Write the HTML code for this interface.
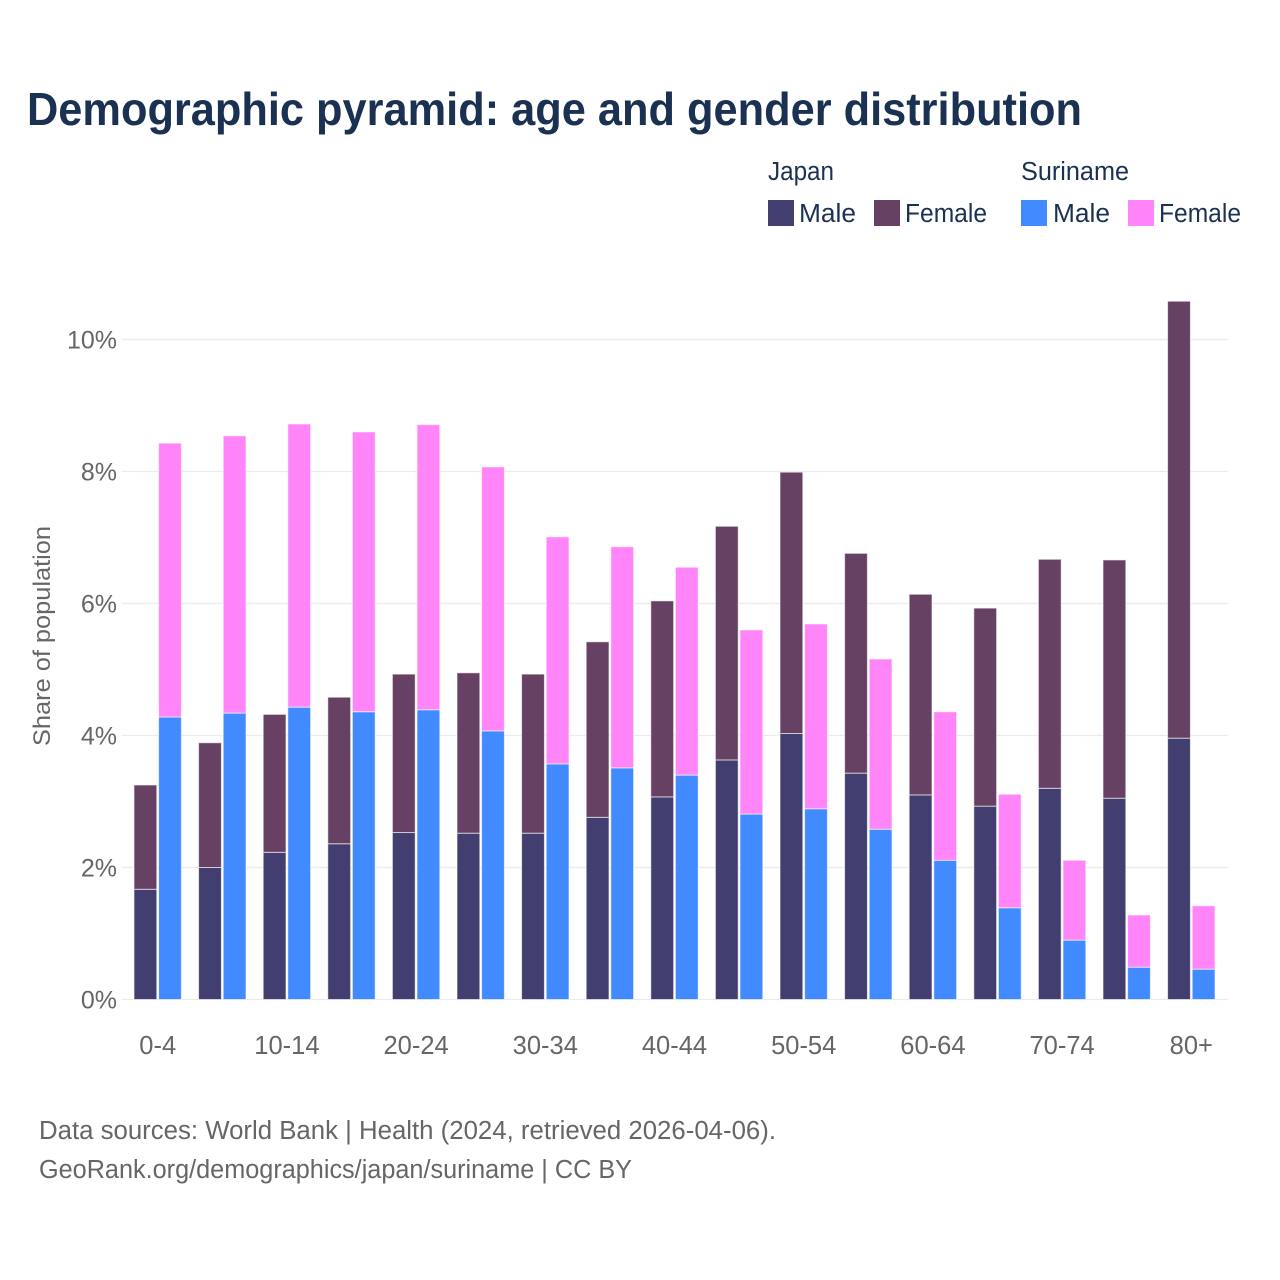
<!DOCTYPE html>
<html lang="en">
<head>
<meta charset="utf-8">
<title>Demographic pyramid: age and gender distribution</title>
<style>
  html, body { margin: 0; padding: 0; background: #fff; }
  svg { display: block; font-family: "Liberation Sans", sans-serif; }
</style>
</head>
<body>
<svg id="chart" width="1280" height="1280" viewBox="0 0 1280 1280" xmlns="http://www.w3.org/2000/svg">
  <rect x="0" y="0" width="1280" height="1280" fill="#ffffff"/>
  <text x="27" y="125" font-size="46" font-weight="700" fill="#1a3152" textLength="1055" lengthAdjust="spacingAndGlyphs">Demographic pyramid: age and gender distribution</text>

  <g>
    <text x="768" y="180" font-size="25.5" fill="#1a3152" textLength="66" lengthAdjust="spacingAndGlyphs">Japan</text>
    <text x="1021" y="180" font-size="25.5" fill="#1a3152" textLength="108" lengthAdjust="spacingAndGlyphs">Suriname</text>
    <rect x="768" y="200" width="26" height="26" fill="#423f70"/>
    <text x="799" y="222" font-size="25.5" fill="#1a3152" textLength="57" lengthAdjust="spacingAndGlyphs">Male</text>
    <rect x="874" y="200" width="26" height="26" fill="#664163"/>
    <text x="905" y="222" font-size="25.5" fill="#1a3152" textLength="82" lengthAdjust="spacingAndGlyphs">Female</text>
    <rect x="1021" y="200" width="26" height="26" fill="#428aff"/>
    <text x="1053" y="222" font-size="25.5" fill="#1a3152" textLength="57" lengthAdjust="spacingAndGlyphs">Male</text>
    <rect x="1128" y="200" width="26" height="26" fill="#ff85f9"/>
    <text x="1159" y="222" font-size="25.5" fill="#1a3152" textLength="82" lengthAdjust="spacingAndGlyphs">Female</text>
  </g>

  <g id="grid"></g>
  <g id="bars"></g>
  <g id="yticks"></g>
  <g id="xticks"></g>

  <text transform="translate(50 636) rotate(-90)" text-anchor="middle" font-size="24.5" fill="#666666" textLength="220" lengthAdjust="spacingAndGlyphs">Share of population</text>

  <text x="39" y="1139" font-size="25.5" fill="#666666" textLength="737" lengthAdjust="spacingAndGlyphs">Data sources: World Bank | Health (2024, retrieved 2026-04-06).</text>
  <text x="39" y="1178" font-size="25.5" fill="#666666" textLength="593" lengthAdjust="spacingAndGlyphs">GeoRank.org/demographics/japan/suriname | CC BY</text>
</svg>

<script>
const categories = ['0-4','5-9','10-14','15-19','20-24','25-29','30-34','35-39','40-44','45-49','50-54','55-59','60-64','65-69','70-74','75-79','80+'];
const tickedCategories = ['0-4','10-14','20-24','30-34','40-44','50-54','60-64','70-74','80+'];
const japanMale = [1.67,2.00,2.23,2.36,2.53,2.52,2.52,2.76,3.07,3.63,4.03,3.43,3.10,2.93,3.20,3.05,3.96];
const japanFemale = [1.58,1.89,2.09,2.22,2.40,2.43,2.41,2.66,2.97,3.54,3.96,3.33,3.04,3.00,3.47,3.61,6.62];
const surinameMale = [4.28,4.34,4.43,4.36,4.39,4.07,3.57,3.51,3.40,2.81,2.89,2.58,2.11,1.39,0.90,0.49,0.46];
const surinameFemale = [4.15,4.20,4.29,4.24,4.32,4.00,3.44,3.35,3.15,2.79,2.80,2.58,2.25,1.72,1.21,0.79,0.96];
const yTickValues = [0,2,4,6,8,10];

const SVG_NS = 'http://www.w3.org/2000/svg';
const plotLeft = 125.4;
const bandStep = 64.6;
const barWidth = 22.8;
const barGap = 1.8;
const y0 = 999.5;
const pxPerUnit = 66;

function xBand(i) { return plotLeft + bandStep * i + bandStep / 2; }
function yScale(v) { return y0 - v * pxPerUnit; }

const gridGroup = document.getElementById('grid');
const barsGroup = document.getElementById('bars');
const yTickGroup = document.getElementById('yticks');
const xTickGroup = document.getElementById('xticks');

yTickValues.forEach(function (v) {
  const line = document.createElementNS(SVG_NS, 'line');
  
  
  line.setAttribute('x1', 122);
  line.setAttribute('x2', 1228);
  line.setAttribute('y1', yScale(v));
  line.setAttribute('y2', yScale(v));
  line.setAttribute('stroke', '#ebebeb');
  line.setAttribute('stroke-width', 1.2);
  gridGroup.appendChild(line);

  const label = document.createElementNS(SVG_NS, 'text');
  
  
  label.setAttribute('x', 117);
  label.setAttribute('y', yScale(v) + 9);
  label.setAttribute('text-anchor', 'end');
  label.setAttribute('font-size', '25');
  label.setAttribute('fill', '#666666');
  label.textContent = v + '%';
  yTickGroup.appendChild(label);
});

function drawBar(x, base, value, fill, name) {
  const rect = document.createElementNS(SVG_NS, 'rect');
  
  
  rect.setAttribute('x', x);
  rect.setAttribute('y', yScale(base + value));
  rect.setAttribute('width', barWidth);
  rect.setAttribute('height', value * pxPerUnit);
  rect.setAttribute('fill', fill);
  rect.setAttribute('stroke', '#ffffff');
  rect.setAttribute('stroke-opacity', '0.6');
  rect.setAttribute('stroke-width', 1);
  barsGroup.appendChild(rect);
}

categories.forEach(function (cat, i) {
  const c = xBand(i);
  const jx = c - barGap / 2 - barWidth;
  const sx = c + barGap / 2;
  drawBar(jx, 0, japanMale[i], '#423f70', 'bar-japan-male-' + cat);
  drawBar(jx, japanMale[i], japanFemale[i], '#664163', 'bar-japan-female-' + cat);
  drawBar(sx, 0, surinameMale[i], '#428aff', 'bar-suriname-male-' + cat);
  drawBar(sx, surinameMale[i], surinameFemale[i], '#ff85f9', 'bar-suriname-female-' + cat);
});

tickedCategories.forEach(function (cat) {
  const label = document.createElementNS(SVG_NS, 'text');
  
  
  label.setAttribute('x', xBand(categories.indexOf(cat)));
  label.setAttribute('y', 1054);
  label.setAttribute('text-anchor', 'middle');
  label.setAttribute('font-size', '25.5');
  label.setAttribute('fill', '#666666');
  label.textContent = cat;
  xTickGroup.appendChild(label);
});
</script>
</body>
</html>
